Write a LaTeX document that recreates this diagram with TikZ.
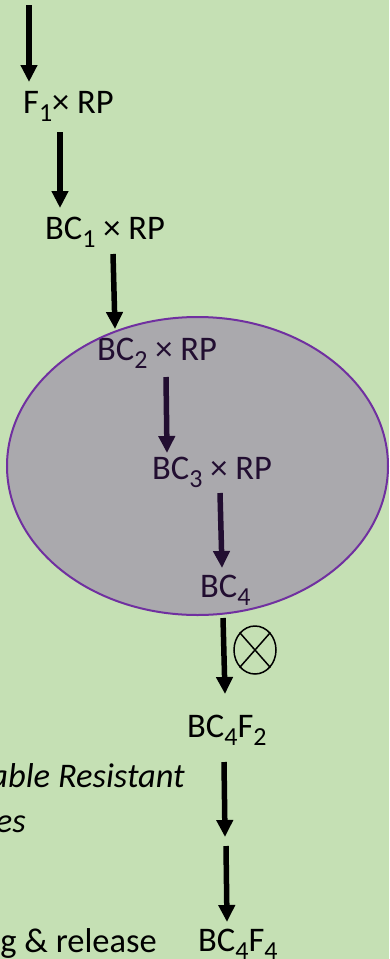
\documentclass[tikz,border=0pt]{standalone}
\usepackage{fontspec}
\setmainfont{Carlito}
\usetikzlibrary{arrows.meta,shapes.geometric}
\definecolor{bggreen}{HTML}{C5E0B4}
\definecolor{ellpurple}{HTML}{7030A0}
\newcommand\sbs[1]{\raisebox{-8.5pt}{\fontsize{26}{26}\selectfont #1}}
\tikzset{
  lbl/.style={inner sep=0pt, font=\fontsize{34.5}{40}\selectfont, text=black},
  arr/.style={line width=5.5pt, -{Triangle[width=16pt,length=17pt]}, black},
}
\begin{document}
\begin{tikzpicture}[x=1pt,y=-1pt]
\fill[bggreen] (0,0) rectangle (389,959);
\useasboundingbox (0,0) rectangle (389,959);
\clip (0,0) rectangle (389,959);
% labels
\node[lbl, anchor=base west] (F1) at (23,113) {F\sbs{1}× RP};
\node[lbl, anchor=base west] (BC1) at (45,239) {BC\sbs{1} × RP};
\node[lbl, anchor=base west] (BC2) at (97,360) {BC\sbs{2} × RP};
\node[lbl, anchor=base west] (BC3) at (152,479) {BC\sbs{3} × RP};
\node[lbl, anchor=base west] (BC4) at (200,597) {BC\sbs{4}};
\node[lbl, anchor=base west] (BC4F2) at (187,737) {BC\sbs{4}F\sbs{2}};
\node[lbl, anchor=base west] (BC4F4) at (198,951) {BC\sbs{4}F\sbs{4}};
\node[lbl, anchor=base east, font=\fontsize{34.5}{40}\selectfont\itshape] (res) at (185,787) {able Resistant};
\node[lbl, anchor=base east, font=\fontsize{34.5}{40}\selectfont\itshape] (es) at (26,832) {es};
\node[lbl, anchor=base east] (rel) at (157,952) {g \& release};
% arrow end points
\coordinate (a1s) at (29,5);    \coordinate (a1e) at (29,82);
\coordinate (a2s) at (60,132);  \coordinate (a2e) at (60,208);
\coordinate (a3s) at (113,254); \coordinate (a3e) at (115,329);
\coordinate (a4s) at (166,377); \coordinate (a4e) at (167,453);
\coordinate (a5s) at (220,493); \coordinate (a5e) at (222,568);
\coordinate (a6s) at (223,618); \coordinate (a6e) at (225,694);
\coordinate (a7s) at (224,762); \coordinate (a7e) at (225,837);
\coordinate (a8s) at (226,846); \coordinate (a8e) at (227,922);
\foreach \i in {1,...,8} \draw[arr] (a\i s) -- (a\i e);
% selection ellipse (translucent, over the text)
\node[draw=ellpurple, line width=2pt, fill=ellpurple, fill opacity=0.31,
      ellipse, minimum width=381pt, minimum height=298pt, inner sep=0pt] (ell) at (197.5,466) {};
% crossing symbol
\node[draw=black, line width=1.5pt, ellipse, minimum width=42pt, minimum height=48pt, inner sep=0pt] (cross) at (255,650) {};
\draw[line width=1.5pt] (cross.north east) -- (cross.south west);
\draw[line width=1.5pt] (cross.north west) -- (cross.south east);
\end{tikzpicture}
\end{document}
